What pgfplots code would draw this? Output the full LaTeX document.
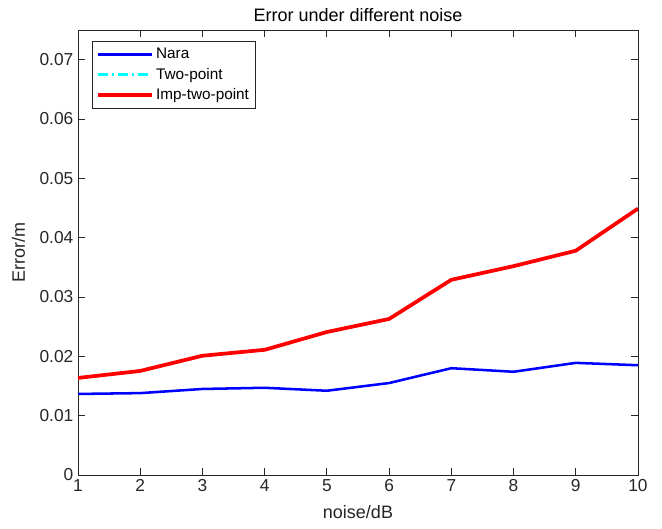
\documentclass[border=0pt]{standalone}
\usepackage{fontspec}
\setmainfont{Liberation Sans}
\usepackage{pgfplots}
\pgfplotsset{compat=1.18}
\definecolor{axgrey}{RGB}{38,38,38}
\definecolor{mblue}{RGB}{0,0,255}
\definecolor{mred}{RGB}{255,0,0}
\definecolor{mcyan}{RGB}{0,255,255}
\begin{document}
\begin{tikzpicture}
\useasboundingbox (-58.5pt,-40.5pt) rectangle (438pt,356.25pt);
\begin{axis}[
  at={(0,0)}, anchor=south west,
  scale only axis, width=420pt, height=333.75pt,
  xmin=1, xmax=10, ymin=0, ymax=0.075,
  xtick={1,...,10},
  ytick={0,0.01,0.02,0.03,0.04,0.05,0.06,0.07},
  yticklabel style={/pgf/number format/fixed, /pgf/number format/precision=2},
  scaled y ticks=false,
  /pgf/number format/assume math mode=true,
  tick align=inside, tick pos=both,
  major tick length=5pt,
  axis line style={axgrey, line width=0.6pt},
  every tick/.style={axgrey, line width=0.6pt},
  tick label style={font=\fontsize{13}{15}\selectfont, text=axgrey},
  xlabel={noise/dB}, ylabel={Error/m},
  label style={font=\fontsize{13.5}{16}\selectfont, text=axgrey},
  xlabel style={yshift=-3pt},
  ylabel style={yshift=4pt},
  title={Error under different noise},
  title style={font=\fontsize{13.5}{16}\selectfont, yshift=-3pt},
  legend style={at={(0.025,0.975)}, anchor=north west, draw=axgrey, line width=0.6pt,
    font=\fontsize{11.5}{13}\selectfont, inner xsep=3pt, inner ysep=3pt, row sep=1.5pt,
    cells={anchor=west}},
  legend cell align=left,
  legend image code/.code={\draw[#1] (0pt,0pt) -- (40pt,0pt);},
]
\addplot[mblue, line width=1.9pt] coordinates {
(1,0.01366) (2,0.0138) (3,0.0145) (4,0.0147) (5,0.0142)
(6,0.0155) (7,0.0180) (8,0.0174) (9,0.0189) (10,0.0185)};
\addplot[mcyan, line width=1.9pt, dash pattern=on 7pt off 3pt on 2pt off 3pt] coordinates {
(1,0.01636) (2,0.01754) (3,0.0201) (4,0.0211) (5,0.0241)
(6,0.0263) (7,0.0329) (8,0.0352) (9,0.0378) (10,0.0449)};
\addplot[mred, line width=2.8pt] coordinates {
(1,0.01636) (2,0.01754) (3,0.0201) (4,0.0211) (5,0.0241)
(6,0.0263) (7,0.0329) (8,0.0352) (9,0.0378) (10,0.0449)};
\legend{Nara,Two-point,Imp-two-point}
\end{axis}
\end{tikzpicture}
\end{document}
